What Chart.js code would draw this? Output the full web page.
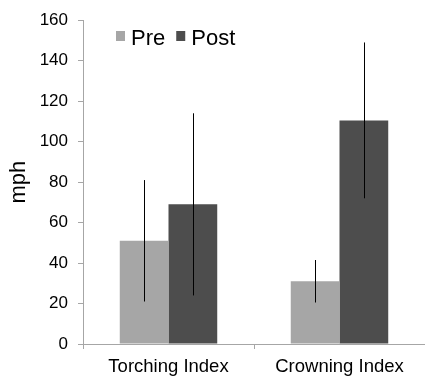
<!DOCTYPE html>
<html>
<head>
<meta charset="utf-8">
<script src="https://cdn.jsdelivr.net/npm/chart.js@4"></script>
<style>
html,body{margin:0;padding:0;background:#fff;}
#wrap{width:425px;height:379px;}
</style>
</head>
<body>
<div id="wrap"><canvas id="c" width="425" height="379"></canvas></div>
<script>
const categories = ['Torching Index', 'Crowning Index'];
const seriesNames = ['Pre', 'Post'];
const preValues = [51, 31];
const postValues = [69, 110.5];
const preErrors = [30, 10.5];
const postErrors = [45, 38.5];
const yTicks = [0, 20, 40, 60, 80, 100, 120, 140, 160];

const FONT = "'Liberation Sans', Arial, sans-serif";
const preColor = '#a6a6a6';
const postColor = '#4d4d4d';

const errorBarPlugin = {
  id: 'errorBars',
  afterDatasetsDraw(chart) {
    const ctx = chart.ctx;
    const y = chart.scales.y;
    ctx.save();
    ctx.strokeStyle = '#000';
    ctx.lineWidth = 1;
    chart.data.datasets.forEach((ds, di) => {
      const meta = chart.getDatasetMeta(di);
      meta.data.forEach((bar, i) => {
        const v = ds.data[i], e = ds.errors[i];
        const x = Math.round(bar.x) + 0.5;
        ctx.beginPath();
        ctx.moveTo(x, y.getPixelForValue(v + e));
        ctx.lineTo(x, y.getPixelForValue(v - e));
        ctx.stroke();
      });
    });
    ctx.restore();
  }
};

const legendPlugin = {
  id: 'customLegend',
  afterDraw(chart) {
    const ctx = chart.ctx;
    ctx.save();
    ctx.font = '22px ' + FONT;
    ctx.textBaseline = 'alphabetic';
    let x = 116;
    chart.data.datasets.forEach((ds) => {
      ctx.fillStyle = ds.backgroundColor;
      ctx.fillRect(x, 31, 9, 10);
      ctx.fillStyle = '#000';
      ctx.fillText(ds.label, x + 15, 45);
      x += 15 + ctx.measureText(ds.label).width + 11;
    });
    ctx.restore();
  }
};

new Chart(document.getElementById('c'), {
  type: 'bar',
  data: {
    labels: categories,
    datasets: [
      { label: seriesNames[0], data: preValues, errors: preErrors, backgroundColor: preColor, borderWidth: 0 },
      { label: seriesNames[1], data: postValues, errors: postErrors, backgroundColor: postColor, borderWidth: 0 }
    ]
  },
  options: {
    responsive: false,
    animation: false,
    devicePixelRatio: 1,
    layout: { padding: { top: 19, right: 0, left: 0, bottom: 0 } },
    plugins: { legend: { display: false }, tooltip: { enabled: false } },
    datasets: { bar: { barPercentage: 1, categoryPercentage: 0.57 } },
    scales: {
      x: {
        afterFit(s) { s.height = 35; },
        grid: { display: true, drawOnChartArea: false, offset: true, tickLength: 5, color: '#a6a6a6' },
        border: { display: true, color: '#a6a6a6', width: 1 },
        ticks: { color: '#000', font: { family: FONT, size: 18.5 }, padding: 7, maxRotation: 0 }
      },
      y: {
        min: 0, max: 160,
        afterFit(s) { s.width = 83; },
        afterBuildTicks(s) { s.ticks = yTicks.map(v => ({ value: v })); },
        grid: { display: true, drawOnChartArea: false, tickLength: 5, color: '#a6a6a6' },
        border: { display: true, color: '#a6a6a6', width: 1 },
        ticks: { color: '#000', font: { family: FONT, size: 17 }, padding: 10 },
        title: { display: true, text: 'mph', color: '#000', font: { family: FONT, size: 22 }, padding: { top: 6, bottom: 4 } }
      }
    }
  },
  plugins: [errorBarPlugin, legendPlugin]
});
</script>
</body>
</html>
